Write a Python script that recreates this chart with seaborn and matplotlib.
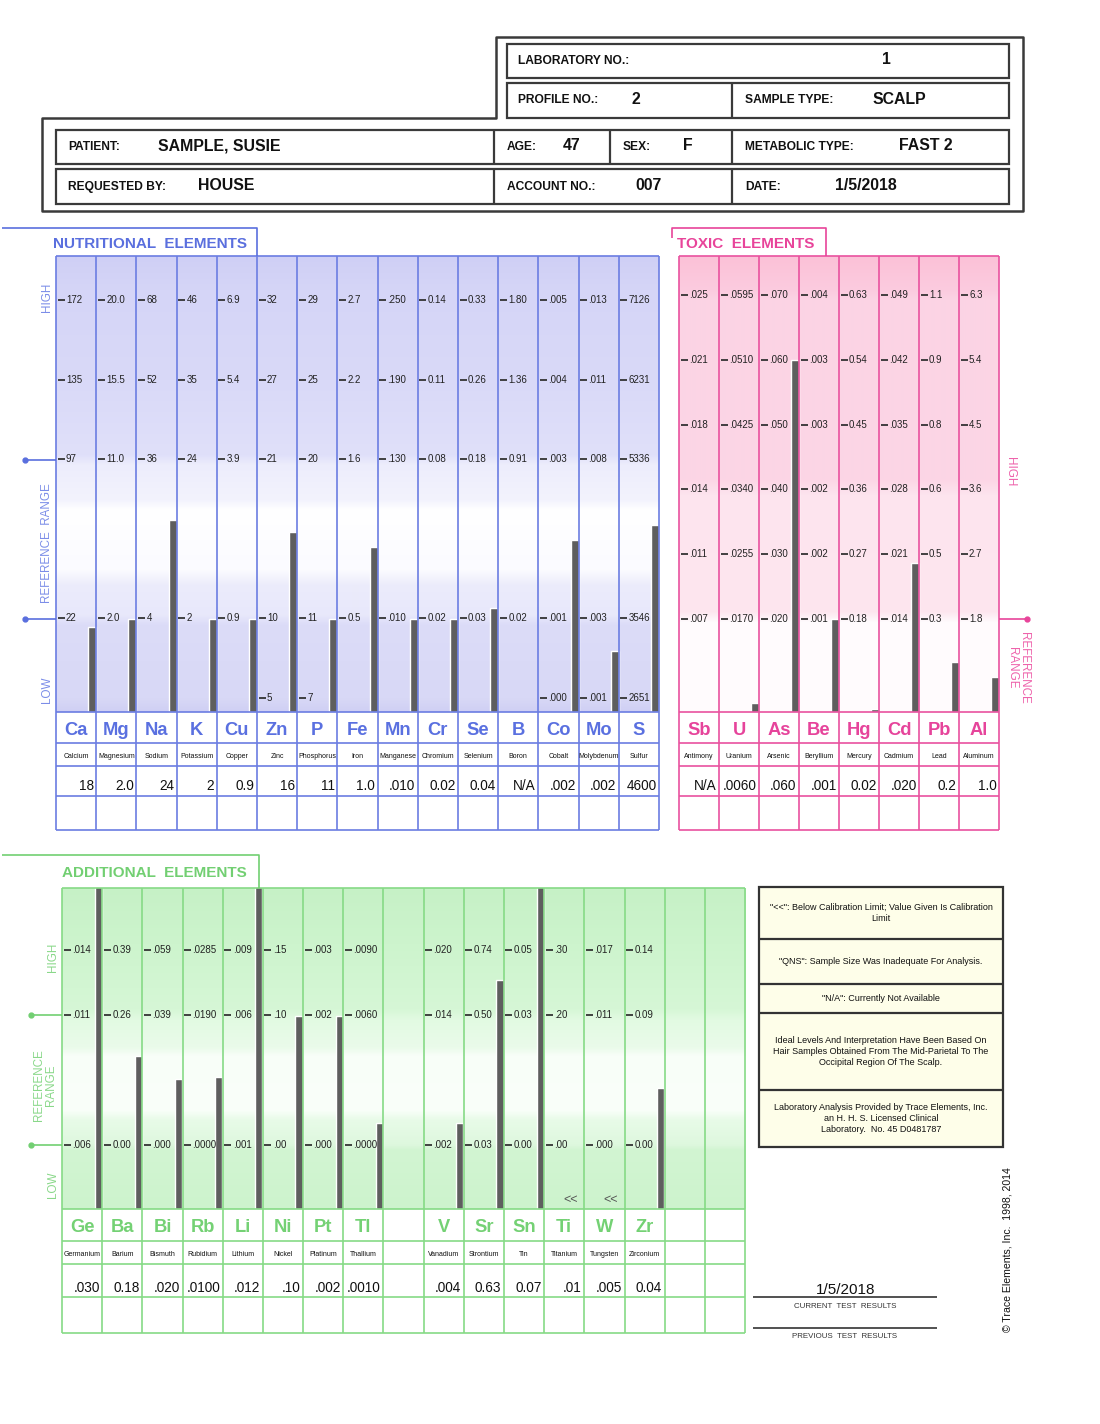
import matplotlib
matplotlib.use("Agg")
import numpy as np
import pandas as pd
import matplotlib.pyplot as plt
from matplotlib import font_manager
from matplotlib.colors import to_rgb
from matplotlib.patches import Rectangle
import seaborn as sns

# ------------------------------------------------------------------
# report data
# ------------------------------------------------------------------
header_labels = ["LABORATORY NO.:", "PROFILE NO.:", "SAMPLE TYPE:", "PATIENT:", "AGE:", "SEX:",
                 "METABOLIC TYPE:", "REQUESTED BY:", "ACCOUNT NO.:", "DATE:"]
header_values = ["1", "2", "SCALP", "SAMPLE, SUSIE", "47", "F", "FAST 2", "HOUSE", "007", "1/5/2018"]

nut_symbols = ["Ca", "Mg", "Na", "K", "Cu", "Zn", "P", "Fe", "Mn", "Cr", "Se", "B", "Co", "Mo", "S"]
nut_names = ["Calcium", "Magnesium", "Sodium", "Potassium", "Copper", "Zinc", "Phosphorus", "Iron",
             "Manganese", "Chromium", "Selenium", "Boron", "Cobalt", "Molybdenum", "Sulfur"]
nut_results = ["18", "2.0", "24", "2", "0.9", "16", "11", "1.0", ".010", "0.02", "0.04", "N/A",
               ".002", ".002", "4600"]
# bar heights, in scale steps above the bar base
nut_bars = [1.07, 1.17, 2.41, 1.17, 1.17, 2.26, 1.17, 2.07, 1.17, 1.17, 1.31, np.nan, 2.16, 0.77, 2.35]
# scale labels of each column, high to low
nut_scale = [
    ["172", "135", "97", "22"],
    ["20.0", "15.5", "11.0", "2.0"],
    ["68", "52", "36", "4"],
    ["46", "35", "24", "2"],
    ["6.9", "5.4", "3.9", "0.9"],
    ["32", "27", "21", "10", "5"],
    ["29", "25", "20", "11", "7"],
    ["2.7", "2.2", "1.6", "0.5"],
    [".250", ".190", ".130", ".010"],
    ["0.14", "0.11", "0.08", "0.02"],
    ["0.33", "0.26", "0.18", "0.03"],
    ["1.80", "1.36", "0.91", "0.02"],
    [".005", ".004", ".003", ".001", ".000"],
    [".013", ".011", ".008", ".003", ".001"],
    ["7126", "6231", "5336", "3546", "2651"],
]

tox_symbols = ["Sb", "U", "As", "Be", "Hg", "Cd", "Pb", "Al"]
tox_names = ["Antimony", "Uranium", "Arsenic", "Beryllium", "Mercury", "Cadmium", "Lead", "Aluminum"]
tox_results = ["N/A", ".0060", ".060", ".001", "0.02", ".020", "0.2", "1.0"]
tox_bars = [np.nan, 0.14, 5.43, 1.435, 0.04, 2.30, 0.77, 0.54]
tox_scale = [
    [".025", ".021", ".018", ".014", ".011", ".007"],
    [".0595", ".0510", ".0425", ".0340", ".0255", ".0170"],
    [".070", ".060", ".050", ".040", ".030", ".020"],
    [".004", ".003", ".003", ".002", ".002", ".001"],
    ["0.63", "0.54", "0.45", "0.36", "0.27", "0.18"],
    [".049", ".042", ".035", ".028", ".021", ".014"],
    ["1.1", "0.9", "0.8", "0.6", "0.5", "0.3"],
    ["6.3", "5.4", "4.5", "3.6", "2.7", "1.8"],
]

add_symbols = ["Ge", "Ba", "Bi", "Rb", "Li", "Ni", "Pt", "Tl", "", "V", "Sr", "Sn", "Ti", "W", "Zr", "", ""]
add_names = ["Germanium", "Barium", "Bismuth", "Rubidium", "Lithium", "Nickel", "Platinum", "Thallium", "",
             "Vanadium", "Strontium", "Tin", "Titanium", "Tungsten", "Zirconium", "", ""]
add_results = [".030", "0.18", ".020", ".0100", ".012", ".10", ".002", ".0010", "",
               ".004", "0.63", "0.07", ".01", ".005", "0.04", "", ""]
add_bars = [5.0, 2.35, 2.0, 2.03, 5.0, 2.97, 2.97, 1.32, np.nan,
            1.32, 3.52, 5.0, np.nan, np.nan, 1.86, np.nan, np.nan]
add_below_limit = ["Ti", "W"]
add_scale = [
    [".014", ".011", ".006"],
    ["0.39", "0.26", "0.00"],
    [".059", ".039", ".000"],
    [".0285", ".0190", ".0000"],
    [".009", ".006", ".001"],
    [".15", ".10", ".00"],
    [".003", ".002", ".000"],
    [".0090", ".0060", ".0000"],
    [],
    [".020", ".014", ".002"],
    ["0.74", "0.50", "0.03"],
    ["0.05", "0.03", "0.00"],
    [".30", ".20", ".00"],
    [".017", ".011", ".000"],
    ["0.14", "0.09", "0.00"],
    [],
    [],
]

notes = [
    '"<<": Below Calibration Limit; Value Given Is Calibration\nLimit',
    '"QNS": Sample Size Was Inadequate For Analysis.',
    '"N/A": Currently Not Available',
    "Ideal Levels And Interpretation Have Been Based On\nHair Samples Obtained From The Mid-Parietal To The\n"
    "Occipital Region Of The Scalp.",
    "Laboratory Analysis Provided by Trace Elements, Inc.\nan H. H. S. Licensed Clinical\n"
    "Laboratory.  No. 45 D0481787",
]
current_date = "1/5/2018"


# ------------------------------------------------------------------
# fonts
# ------------------------------------------------------------------
def pick_font(*names):
    for name in names:
        try:
            font_manager.findfont(name, fallback_to_default=False)
            return name
        except ValueError:
            continue
    return None


SANS = pick_font("Liberation Sans", "Arial") or "DejaVu Sans"
NARROW = pick_font("Liberation Sans Narrow", "Arial Narrow")
SQ = 1.0
if NARROW is None:
    NARROW, SQ = SANS, 0.88

sns.set_theme(style="white")
plt.rcParams["font.family"] = [SANS, "DejaVu Sans"]

W, H = 1100, 1424
fig = plt.figure(figsize=(W / 100, H / 100), dpi=100)
fig.patch.set_facecolor("white")

fg = fig.add_axes([0, 0, 1, 1])
fg.set_xlim(0, W)
fg.set_ylim(H, 0)
fg.axis("off")
fg.set_zorder(5)
fg.patch.set_alpha(0)

INK = "#222222"
BAR = "#5e5e5e"


def txt(x, y, s, size, color=INK, weight="normal", ha="left", va="center", rot=0, fam=None, **kw):
    fg.text(x, y, s, fontsize=size, color=color, fontweight=weight, ha=ha, va=va, rotation=rot,
            family=[fam or SANS, "DejaVu Sans"], **kw)


def line(xs, ys, color=INK, lw=1.0, **kw):
    fg.plot(xs, ys, color=color, lw=lw, solid_capstyle="butt", **kw)


def box(x0, y0, x1, y1, color=INK, lw=1.4, fill=None):
    fg.add_patch(Rectangle((x0, y0), x1 - x0, y1 - y0, facecolor=fill if fill else "none",
                           edgecolor=color, lw=lw))


# ------------------------------------------------------------------
# header
# ------------------------------------------------------------------
HDR = "#3a3a3a"
line([494, 496, 496, 1023, 1023, 42, 42, 494], [118, 118, 37, 37, 211, 211, 118, 118], color=HDR, lw=1.8)
box(507, 44, 1009, 78, HDR, 1.6)
box(507, 83, 1009, 118, HDR, 1.6)
line([732, 732], [83, 118], HDR, 1.6)
box(56, 130, 1009, 164, HDR, 1.6)
for xv in (494, 610, 732):
    line([xv, xv], [130, 164], HDR, 1.6)
box(56, 169, 1009, 204, HDR, 1.6)
for xv in (494, 732):
    line([xv, xv], [169, 204], HDR, 1.6)

header_pos = [(518, 882, 61), (518, 632, 100), (745, 873, 100), (68, 158, 147), (507, 563, 147),
              (623, 683, 147), (745, 899, 147), (68, 198, 187), (507, 635, 187), (745, 835, 187)]
for lab, val, (xl, xv, yy) in zip(header_labels, header_values, header_pos):
    txt(xl, yy, lab, 9.8 * SQ, "#111111", "bold", fam=NARROW)
    txt(xv, yy - 1, val, 13.0 * SQ, "#111111", "bold", fam=NARROW)


# ------------------------------------------------------------------
# element panels
# ------------------------------------------------------------------
def gradient(ax, stops, top, base, n, ymax):
    ys = np.arange(top, base) + 0.5
    sy = [s[0] for s in stops]
    cols = np.array([to_rgb(s[1]) for s in stops])
    img = np.stack([np.interp(ys, sy, cols[:, c]) for c in range(3)], axis=-1)[:, None, :]
    ax.imshow(img, extent=(-0.9, n - 0.9, 0, ymax), aspect="auto", origin="upper",
              interpolation="bilinear", zorder=0)


def panel(spec, syms, names, results, bars, scale):
    x0, cw, top, base, step, off = spec["x0"], spec["cw"], spec["top"], spec["base"], spec["step"], spec["off"]
    rows, col = spec["rows"], spec["color"]
    n = len(syms)
    x1 = x0 + n * cw
    ymax = (base - top) / step
    cats = [s if s else "_%d" % i for i, s in enumerate(syms)]

    ax = fig.add_axes([x0 / W, 1 - base / H, (x1 - x0) / W, (base - top) / H])
    df = pd.DataFrame({"element": cats, "height": bars}).dropna()
    sns.barplot(data=df, x="element", y="height", order=cats, color=BAR, width=spec["bw"],
                saturation=1, errorbar=None, ax=ax, zorder=2)
    gradient(ax, spec["stops"], top, base, n, ymax)
    ax.set_xlim(-0.9, n - 0.9)
    ax.set_ylim(0, ymax)
    ax.axis("off")

    # grid of columns and label rows
    for i in range(n + 1):
        xv = x0 + i * cw
        line([xv, xv], [top, rows[-1]], col, 1.2)
    for yv in [top] + rows:
        line([x0, x1], [yv, yv], col, 1.2)

    # scale labels
    for i, labels in enumerate(scale):
        xl = x0 + i * cw
        for k, lab in zip(spec["levels"], labels):
            yv = base - (off + k) * step
            line([xl + 1.5, xl + 8.5], [yv, yv], "#333333", 1.3)
            txt(xl + 10, yv, lab, 7.0, "#222222")

    sym_y = (rows[0] + rows[1]) / 2 + 3
    name_y = (rows[1] + rows[2]) / 2 + 2.5
    val_y = (rows[2] + rows[3]) / 2 + spec["val_dy"]
    for i in range(n):
        xc = x0 + (i + 0.5) * cw
        txt(xc, sym_y, syms[i], 15.0 * SQ, spec["sym"], "bold", ha="center", fam=NARROW)
        txt(xc, name_y, names[i], 5.0, "#111111", ha="center")
        txt(x0 + (i + 1) * cw - 2.5, val_y, results[i], 9.8, "#111111", ha="right")


NUT = dict(x0=56, cw=40.2, top=256, base=712, step=79.6, off=0.176, levels=[5, 4, 3, 1, 0],
           rows=[712, 743, 766, 796, 830], color="#6b7de2", sym="#5a70e0", bw=0.2, val_dy=5,
           stops=[(256, "#cfcff5"), (290, "#d5d5f7"), (380, "#d9d9f8"), (455, "#e0e0fa"),
                  (465, "#ededfc"), (500, "#f3f3fd"), (510, "#ffffff"), (570, "#fbfbff"),
                  (585, "#ececfb"), (615, "#e8e8fb"), (625, "#dcdcf8"), (698, "#d8d8f6"),
                  (712, "#cfcff4")])
TOX = dict(x0=679, cw=40, top=256, base=712, step=64.8, off=1.435, levels=[5, 4, 3, 2, 1, 0],
           rows=[712, 743, 766, 796, 830], color="#e9529f", sym="#e6449b", bw=0.18, val_dy=5,
           stops=[(256, "#fbc1d7"), (290, "#fbcbdf"), (300, "#fcd3e4"), (480, "#fcd6e6"),
                  (495, "#fde4ee"), (612, "#fde6ef"), (622, "#fffbfd"), (712, "#fffbfd")])
ADD = dict(x0=62, cw=40.18, top=888, base=1209, step=65, off=0.985, levels=[3, 2, 0],
           rows=[1209, 1241, 1264, 1297, 1333], color="#86da86", sym="#74d174", bw=0.18, val_dy=8,
           stops=[(888, "#c6f1c6"), (945, "#cdf4cd"), (1010, "#d6f7d6"), (1020, "#e2fae2"),
                  (1048, "#eafbea"), (1056, "#f8fef8"), (1110, "#fafffa"), (1120, "#e8fbe8"),
                  (1145, "#def8de"), (1150, "#d2f5d2"), (1209, "#cdf3cd")])

panel(NUT, nut_symbols, nut_names, nut_results, nut_bars, nut_scale)
panel(TOX, tox_symbols, tox_names, tox_results, tox_bars, tox_scale)
panel(ADD, add_symbols, add_names, add_results, add_bars, add_scale)

for s in add_below_limit:
    i = add_symbols.index(s)
    txt(ADD["x0"] + (i + 0.5) * ADD["cw"] + 6, 1200, "<<", 9.0, "#555555", ha="center")

# panel tabs and titles
NB, TP, GR = "#5a6fde", "#e8449a", "#72cf72"
line([2, 257, 257], [228, 228, 256], NB, 1.2)
txt(53, 244, "NUTRITIONAL  ELEMENTS", 12.5 * SQ, NB, "bold", fam=NARROW)
line([672, 672, 826, 826], [238, 228, 228, 256], TP, 1.2)
txt(677, 244, "TOXIC  ELEMENTS", 12.5 * SQ, TP, "bold", fam=NARROW)
line([2, 259, 259], [855, 855, 888], GR, 1.2)
txt(62, 873, "ADDITIONAL  ELEMENTS", 12.5 * SQ, GR, "bold", fam=NARROW)

# side markers
SNB, STP, SGR = "#7b8de8", "#ee62ab", "#8ad88a"
txt(47, 297, "HIGH", 9.5 * SQ, SNB, ha="center", rot=90, fam=NARROW)
txt(47, 543, "REFERENCE  RANGE", 9.5 * SQ, SNB, ha="center", rot=90, fam=NARROW)
txt(47, 690, "LOW", 9.5 * SQ, SNB, ha="center", rot=90, fam=NARROW)
for yv in (460, 619):
    line([25, 56], [yv, yv], NB, 1.2)
    fg.plot([25], [yv], "o", ms=3.5, color=NB)

txt(1010, 472, "HIGH", 9.5 * SQ, STP, ha="center", rot=270, fam=NARROW)
txt(1018, 668, "REFERENCE\nRANGE", 9.5 * SQ, STP, ha="center", rot=270, fam=NARROW, linespacing=0.95)
line([999, 1027], [619, 619], TP, 1.2)
fg.plot([1027], [619], "o", ms=3.5, color=TP)

txt(53, 957, "HIGH", 9.5 * SQ, SGR, ha="center", rot=90, fam=NARROW)
txt(45, 1085, "REFERENCE\nRANGE", 9.5 * SQ, SGR, ha="center", rot=90, fam=NARROW, linespacing=0.95)
txt(53, 1185, "LOW", 9.5 * SQ, SGR, ha="center", rot=90, fam=NARROW)
for yv in (1015, 1145):
    line([31, 62], [yv, yv], GR, 1.2)
    fg.plot([31], [yv], "o", ms=3.5, color=GR)

# ------------------------------------------------------------------
# notes and footer
# ------------------------------------------------------------------
note_rows = [887, 939, 984, 1013, 1090, 1147]
box(759, note_rows[0], 1003, note_rows[-1], "#333333", 1.6, fill="#fefee9")
for yv in note_rows[1:-1]:
    line([759, 1003], [yv, yv], "#333333", 1.6)
for k, note in enumerate(notes):
    txt(881, (note_rows[k] + note_rows[k + 1]) / 2, note, 6.5, "#111111", ha="center",
        fam=NARROW, multialignment="center", linespacing=1.3)

txt(846, 1290, current_date, 11.0, "#111111", ha="center", fam=NARROW)
line([753, 937], [1297, 1297], "#333333", 1.2)
txt(845, 1306, "CURRENT  TEST  RESULTS", 5.7, "#333333", ha="center", fam=NARROW)
line([753, 937], [1328, 1328], "#333333", 1.2)
txt(845, 1337, "PREVIOUS  TEST  RESULTS", 5.7, "#333333", ha="center", fam=NARROW)
txt(1008, 1250, "\u00a9 Trace Elements, Inc.  1998, 2014", 7.6, "#111111", ha="center", rot=90,
    fam=NARROW)

fig.savefig("out.png", dpi=100)
